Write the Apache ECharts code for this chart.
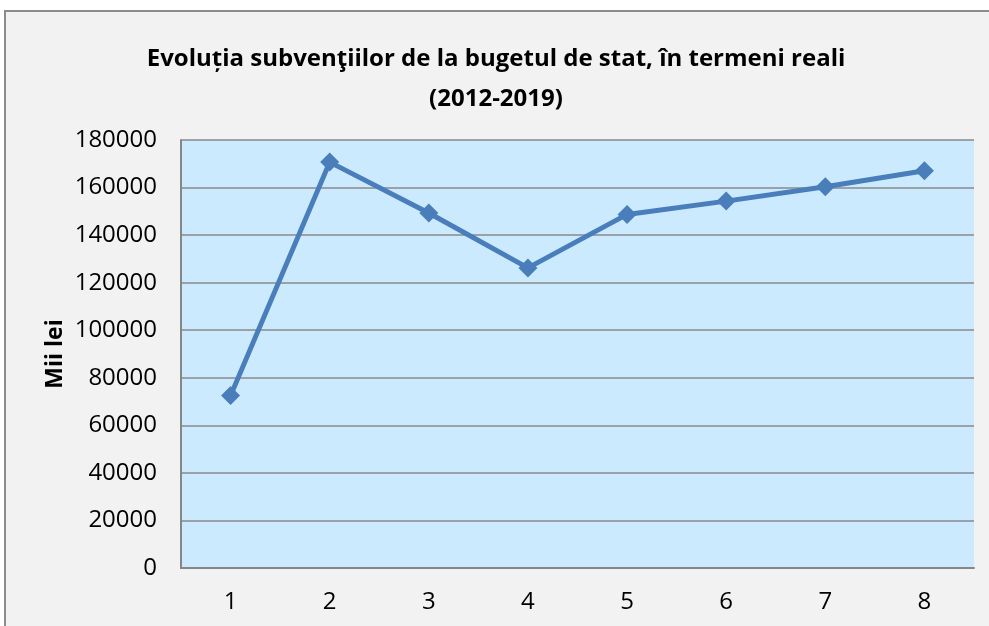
<!DOCTYPE html>
<html>
<head>
<meta charset="utf-8">
<script src="https://cdn.jsdelivr.net/npm/echarts@6/dist/echarts.min.js"></script>
<style>
  html, body { margin: 0; padding: 0; background: #ffffff; overflow: hidden; }
  #frame {
    position: absolute; left: 4px; top: 10px; width: 1100px; height: 800px;
    border: 2px solid #8c8c8c; background: #f2f2f2;
  }
  #chart { position: absolute; left: 0; top: 0; width: 989px; height: 626px; }
</style>
</head>
<body>
<div id="frame"></div>
<div id="chart"></div>
<script>
const categories = ['1', '2', '3', '4', '5', '6', '7', '8'];
const subventii = [72500, 170700, 149300, 126200, 148700, 154300, 160300, 167100];
const yTicks = { min: 0, max: 180000, interval: 20000 };

const chart = echarts.init(document.getElementById('chart'));

const option = {
    animation: false,
    title: {
        text: 'Evoluția subvenţiilor de la bugetul de stat, în termeni reali\n(2012-2019)',
        left: 491,
        top: 34,
        textAlign: 'center',
        textStyle: {
            fontFamily: 'Open Sans',
            fontWeight: 'bold',
            fontSize: 24,
            lineHeight: 40,
            color: '#000'
        }
    },
    grid: {
        left: 181,
        top: 140,
        width: 793,
        height: 428
    },
    xAxis: {
        type: 'category',
        data: categories,
        boundaryGap: true,
        axisLine: { lineStyle: { color: '#868686', width: 2 } },
        axisTick: { show: false },
        axisLabel: { fontFamily: 'Open Sans', fontSize: 24, color: '#000', margin: 22 }
    },
    yAxis: {
        type: 'value',
        min: yTicks.min,
        max: yTicks.max,
        interval: yTicks.interval,
        name: 'Mii lei',
        nameLocation: 'middle',
        nameRotate: 90,
        nameGap: 114,
        nameMoveOverlap: false,
        nameTextStyle: { fontFamily: 'Open Sans', fontWeight: 'bold', fontSize: 23, color: '#000' },
        axisLine: { show: true, lineStyle: { color: '#868686', width: 2 } },
        axisTick: { show: false },
        splitLine: { lineStyle: { color: '#8a8a8a', width: 1.5 } },
        splitArea: { show: true, areaStyle: { color: ['#cceafd'] } },
        axisLabel: {
            fontFamily: 'Open Sans',
            fontSize: 24,
            color: '#000',
            margin: 24,
            formatter: v => String(v)
        }
    },
    series: [{
        type: 'line',
        data: subventii,
        symbol: 'path://M0,-1L1,0L0,1L-1,0Z',
        symbolSize: 19,
        lineStyle: { color: '#4a7ebb', width: 5 },
        itemStyle: { color: '#4a7ebb' }
    }]
};

chart.setOption(option);
</script>
</body>
</html>
